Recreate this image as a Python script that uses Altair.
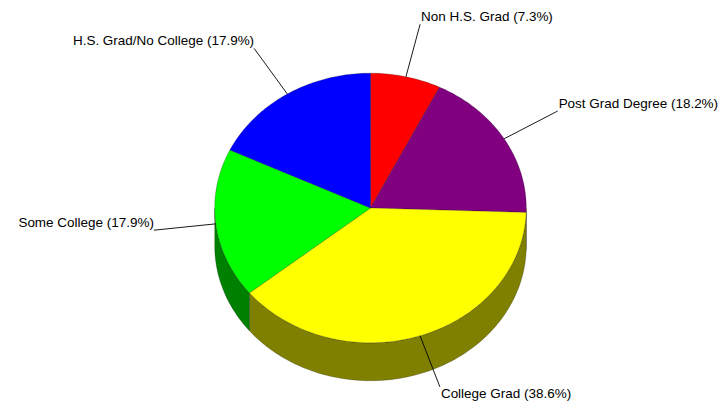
import math
import pandas as pd
import altair as alt

# ---- data ----
categories = ["Non H.S. Grad", "Post Grad Degree", "College Grad", "Some College", "H.S. Grad/No College"]
values = [7.3, 18.2, 38.6, 17.9, 17.9]
top_colors = ["#ff0000", "#800080", "#ffff00", "#00ff00", "#0000ff"]
side_colors = ["#800000", "#400040", "#808000", "#008000", "#000080"]

# ---- layout (page pixels) ----
W, H = 711, 393
CX, CY = 371, 208
RX, RY = 156, 135
DEPTH = 38
LABEL_R = 1.4


def pt(a, r=1.0, dz=0.0):
    rad = math.radians(a)
    return (CX + r * RX * math.sin(rad), CY - r * RY * math.cos(rad) + dz)


def arc_angles(a0, a1):
    n = max(2, int(abs(a1 - a0)) + 1)
    return [a0 + (a1 - a0) * i / (n - 1) for i in range(n)]


total = sum(values)
top_rows, side_rows, lead_rows, label_rows = [], [], [], []
start = 0.0
for k, (cat, v) in enumerate(zip(categories, values)):
    a0 = start / total * 360
    a1 = (start + v) / total * 360
    start += v
    # top face
    pts = [(CX, CY)] + [pt(a) for a in arc_angles(a0, a1)] + [(CX, CY)]
    for i, (x, y) in enumerate(pts):
        top_rows.append({"poly": cat, "i": i, "x": x, "y": y, "fill": top_colors[k]})
    # visible side wall
    s0, s1 = max(a0, 90), min(a1, 270)
    if s1 > s0:
        angs = arc_angles(s0, s1)
        up = [pt(a) for a in angs]
        down = [pt(a, dz=DEPTH) for a in reversed(angs)]
        pts = up + down + [up[0]]
        for i, (x, y) in enumerate(pts):
            side_rows.append({"poly": cat, "i": i, "x": x, "y": y, "fill": side_colors[k]})
    # leader line + label
    mid = (a0 + a1) / 2
    p1, p2 = pt(mid), pt(mid, LABEL_R)
    lead_rows.append({"poly": cat, "i": 0, "x": p1[0], "y": p1[1]})
    lead_rows.append({"poly": cat, "i": 1, "x": p2[0], "y": p2[1]})
    right_side = math.sin(math.radians(mid)) > 0
    grp = ("L" if right_side else "R") + ("T" if math.cos(math.radians(mid)) < -0.5 else "B")
    label_rows.append({"label": f"{cat} ({v}%)", "x": p2[0] + (1 if right_side else 0), "y": p2[1], "grp": grp})

top_df = pd.DataFrame(top_rows)
side_df = pd.DataFrame(side_rows)
lead_df = pd.DataFrame(lead_rows)
label_df = pd.DataFrame(label_rows)

xs = alt.X("x:Q", scale=alt.Scale(domain=[8, 8 + W], nice=False, zero=False), axis=None)
ys = alt.Y("y:Q", scale=alt.Scale(domain=[8, 8 + H], nice=False, zero=False, reverse=True), axis=None)


def poly_layer(df):
    return alt.Chart(df).mark_line(
        filled=True, stroke="#000000", strokeWidth=0.5, strokeOpacity=0.45, interpolate="linear"
    ).encode(
        x=xs, y=ys, order=alt.Order("i:Q"), detail="poly:N", color=alt.Color("fill:N", scale=None)
    )


sides = poly_layer(side_df)
tops = poly_layer(top_df)

leads = alt.Chart(lead_df).mark_line(color="#000000", strokeWidth=0.9).encode(
    x=xs, y=ys, order=alt.Order("i:Q"), detail="poly:N"
)

text_layers = []
for grp, align, baseline in [("LB", "left", "bottom"), ("RB", "right", "bottom"), ("LT", "left", "top"), ("RT", "right", "top")]:
    sub = label_df[label_df["grp"] == grp]
    if len(sub) == 0:
        continue
    text_layers.append(
        alt.Chart(sub).mark_text(
            align=align, baseline=baseline, font="Liberation Sans", fontSize=13.5, color="#000000"
        ).encode(x=xs, y=ys, text="label:N")
    )

chart = alt.layer(sides, tops, leads, *text_layers).properties(
    width=W, height=H, padding=0, background="#ffffff"
).configure_view(stroke=None)

chart.save("out.html", embed_options={"renderer": "svg", "actions": False})
